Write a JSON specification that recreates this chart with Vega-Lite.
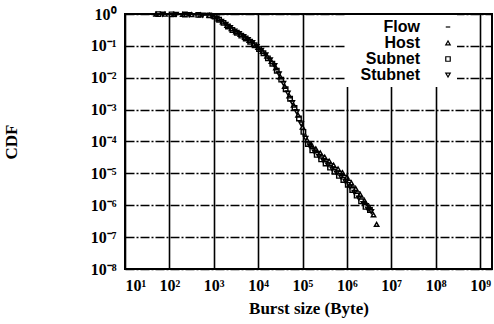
{
 "$schema": "https://vega.github.io/schema/vega-lite/v6.json",
 "width": 367,
 "height": 255,
 "autosize": "none",
 "padding": {"left": 125, "top": 14, "right": 2, "bottom": 55},
 "background": "white",
 "config": {"view": {"stroke": "black", "strokeWidth": 2}, "font": "Liberation Serif"},
 "data": {"values": [
  {"s":"Flow","x":44.7,"y":1},{"s":"Flow","x":63.1,"y":0.9886},{"s":"Flow","x":100,"y":0.9817},{"s":"Flow","x":158,"y":0.9727},{"s":"Flow","x":251,"y":0.9594},{"s":"Flow","x":398,"y":0.944},{"s":"Flow","x":631,"y":0.9226},{"s":"Flow","x":891,"y":0.891},{"s":"Flow","x":1122,"y":0.794},{"s":"Flow","x":1413,"y":0.631},{"s":"Flow","x":1778,"y":0.501},{"s":"Flow","x":2239,"y":0.398},{"s":"Flow","x":2818,"y":0.302},{"s":"Flow","x":3548,"y":0.251},{"s":"Flow","x":4467,"y":0.209},{"s":"Flow","x":5623,"y":0.170},{"s":"Flow","x":7079,"y":0.135},{"s":"Flow","x":8913,"y":0.1},{"s":"Flow","x":11220,"y":0.0794},{"s":"Flow","x":14130,"y":0.0575},{"s":"Flow","x":17780,"y":0.0398},{"s":"Flow","x":22390,"y":0.0269},{"s":"Flow","x":28180,"y":0.0151},{"s":"Flow","x":35480,"y":0.00759},{"s":"Flow","x":44670,"y":0.0038},{"s":"Flow","x":56230,"y":0.0019},{"s":"Flow","x":70790,"y":0.001},{"s":"Flow","x":89130,"y":0.000447},{"s":"Flow","x":112200,"y":0.000158},{"s":"Flow","x":141300,"y":0.0000891},{"s":"Flow","x":177800,"y":0.0000631},{"s":"Flow","x":223900,"y":0.0000479},{"s":"Flow","x":281800,"y":0.0000355},{"s":"Flow","x":354800,"y":0.0000269},{"s":"Flow","x":446700,"y":0.00002},{"s":"Flow","x":562300,"y":0.0000151},{"s":"Flow","x":707900,"y":0.0000115},{"s":"Flow","x":891300,"y":0.00000851},{"s":"Flow","x":1122000,"y":0.00000603},{"s":"Flow","x":1413000,"y":0.00000398},{"s":"Flow","x":1778000,"y":0.00000263},{"s":"Flow","x":2239000,"y":0.0000017},{"s":"Flow","x":2818000,"y":0.00000112},
  {"s":"Host","x":50.1,"y":0.995},{"s":"Host","x":79.4,"y":0.986},{"s":"Host","x":126,"y":0.977},{"s":"Host","x":200,"y":0.966},{"s":"Host","x":316,"y":0.951},{"s":"Host","x":501,"y":0.933},{"s":"Host","x":794,"y":0.902},{"s":"Host","x":1000,"y":0.851},{"s":"Host","x":1259,"y":0.708},{"s":"Host","x":1585,"y":0.562},{"s":"Host","x":1995,"y":0.437},{"s":"Host","x":2512,"y":0.347},{"s":"Host","x":3162,"y":0.275},{"s":"Host","x":3981,"y":0.229},{"s":"Host","x":5012,"y":0.186},{"s":"Host","x":6310,"y":0.148},{"s":"Host","x":7943,"y":0.115},{"s":"Host","x":10000,"y":0.0891},{"s":"Host","x":12590,"y":0.0676},{"s":"Host","x":15850,"y":0.0479},{"s":"Host","x":19950,"y":0.0324},{"s":"Host","x":25120,"y":0.0204},{"s":"Host","x":31620,"y":0.0107},{"s":"Host","x":39810,"y":0.00537},{"s":"Host","x":50120,"y":0.00269},{"s":"Host","x":63100,"y":0.00138},{"s":"Host","x":79430,"y":0.000676},{"s":"Host","x":100000,"y":0.000282},{"s":"Host","x":125900,"y":0.000112},{"s":"Host","x":158500,"y":0.0000794},{"s":"Host","x":199500,"y":0.0000589},{"s":"Host","x":251200,"y":0.0000437},{"s":"Host","x":316200,"y":0.0000324},{"s":"Host","x":398100,"y":0.0000245},{"s":"Host","x":501200,"y":0.0000182},{"s":"Host","x":631000,"y":0.0000138},{"s":"Host","x":794300,"y":0.0000105},{"s":"Host","x":1000000,"y":0.00000759},{"s":"Host","x":1259000,"y":0.00000501},{"s":"Host","x":1585000,"y":0.00000331},{"s":"Host","x":1995000,"y":0.00000219},{"s":"Host","x":2512000,"y":0.00000138},{"s":"Host","x":3162000,"y":0.000000891},{"s":"Host","x":3981000,"y":0.000000501},{"s":"Host","x":4677000,"y":0.000000251},
  {"s":"Subnet","x":56.2,"y":0.991},{"s":"Subnet","x":112,"y":0.977},{"s":"Subnet","x":224,"y":0.962},{"s":"Subnet","x":447,"y":0.938},{"s":"Subnet","x":794,"y":0.902},{"s":"Subnet","x":1047,"y":0.832},{"s":"Subnet","x":1318,"y":0.661},{"s":"Subnet","x":1660,"y":0.525},{"s":"Subnet","x":2089,"y":0.407},{"s":"Subnet","x":2630,"y":0.316},{"s":"Subnet","x":3311,"y":0.257},{"s":"Subnet","x":4169,"y":0.209},{"s":"Subnet","x":5248,"y":0.170},{"s":"Subnet","x":6607,"y":0.135},{"s":"Subnet","x":8318,"y":0.105},{"s":"Subnet","x":10470,"y":0.0794},{"s":"Subnet","x":13180,"y":0.0589},{"s":"Subnet","x":16600,"y":0.0407},{"s":"Subnet","x":20890,"y":0.0275},{"s":"Subnet","x":26300,"y":0.0166},{"s":"Subnet","x":33110,"y":0.0087},{"s":"Subnet","x":41690,"y":0.00437},{"s":"Subnet","x":52480,"y":0.00219},{"s":"Subnet","x":66070,"y":0.00112},{"s":"Subnet","x":83180,"y":0.000525},{"s":"Subnet","x":104700,"y":0.0002},{"s":"Subnet","x":131800,"y":0.0000832},{"s":"Subnet","x":166000,"y":0.0000525},{"s":"Subnet","x":208900,"y":0.000038},{"s":"Subnet","x":263000,"y":0.0000275},{"s":"Subnet","x":331100,"y":0.0000204},{"s":"Subnet","x":416900,"y":0.0000151},{"s":"Subnet","x":524800,"y":0.0000112},{"s":"Subnet","x":660700,"y":0.00000832},{"s":"Subnet","x":831800,"y":0.00000617},{"s":"Subnet","x":1047000,"y":0.00000437},{"s":"Subnet","x":1318000,"y":0.00000302},{"s":"Subnet","x":1660000,"y":0.000002},{"s":"Subnet","x":2089000,"y":0.00000132},{"s":"Subnet","x":2630000,"y":0.000000891},{"s":"Subnet","x":3311000,"y":0.000000708},
  {"s":"Stubnet","x":70.8,"y":0.989},{"s":"Stubnet","x":141,"y":0.973},{"s":"Stubnet","x":282,"y":0.955},{"s":"Stubnet","x":562,"y":0.927},{"s":"Stubnet","x":933,"y":0.871},{"s":"Stubnet","x":1175,"y":0.741},{"s":"Stubnet","x":1479,"y":0.589},{"s":"Stubnet","x":1862,"y":0.468},{"s":"Stubnet","x":2344,"y":0.372},{"s":"Stubnet","x":2951,"y":0.288},{"s":"Stubnet","x":3715,"y":0.240},{"s":"Stubnet","x":4677,"y":0.195},{"s":"Stubnet","x":5888,"y":0.158},{"s":"Stubnet","x":7413,"y":0.126},{"s":"Stubnet","x":9333,"y":0.0955},{"s":"Stubnet","x":11750,"y":0.0724},{"s":"Stubnet","x":14790,"y":0.0525},{"s":"Stubnet","x":18620,"y":0.0363},{"s":"Stubnet","x":23440,"y":0.024},{"s":"Stubnet","x":29510,"y":0.0132},{"s":"Stubnet","x":37150,"y":0.00661},{"s":"Stubnet","x":46770,"y":0.00331},{"s":"Stubnet","x":58880,"y":0.00166},{"s":"Stubnet","x":74130,"y":0.000851},{"s":"Stubnet","x":93330,"y":0.000355},{"s":"Stubnet","x":117500,"y":0.000126},{"s":"Stubnet","x":147900,"y":0.0000708},{"s":"Stubnet","x":186200,"y":0.0000468},{"s":"Stubnet","x":234400,"y":0.0000339},{"s":"Stubnet","x":295100,"y":0.0000251},{"s":"Stubnet","x":371500,"y":0.0000186},{"s":"Stubnet","x":467700,"y":0.0000138},{"s":"Stubnet","x":588800,"y":0.0000102},{"s":"Stubnet","x":741300,"y":0.00000759},{"s":"Stubnet","x":933300,"y":0.0000055},{"s":"Stubnet","x":1175000,"y":0.0000038},{"s":"Stubnet","x":1479000,"y":0.00000251},{"s":"Stubnet","x":1862000,"y":0.00000166},{"s":"Stubnet","x":2344000,"y":0.00000112},{"s":"Stubnet","x":2951000,"y":0.000000759},{"s":"Stubnet","x":3548000,"y":0.000000631}
 ]},
 "mark": {"type": "point", "filled": false, "size": 20, "strokeWidth": 1.4, "opacity": 1, "color": "black"},
 "encoding": {
  "x": {"field": "x", "type": "quantitative",
   "scale": {"type": "log", "domain": [10, 1862000000], "nice": false},
   "axis": {"title": "Burst size (Byte)", "values": [10, 100, 1000, 10000, 100000, 1000000, 10000000, 100000000, 1000000000],
    "labelExpr": "['10⁰','10¹','10²','10³','10⁴','10⁵','10⁶','10⁷','10⁸','10⁹'][round(log(datum.value)/LN10)]",
    "grid": true, "gridColor": "black", "gridWidth": 1.6, "gridOpacity": 1, "ticks": false, "domain": false,
    "labelFont": "Liberation Serif", "labelFontSize": 16, "labelFontWeight": "bold", "labelColor": "black", "labelPadding": 8,
    "titleFont": "Liberation Serif", "titleFontSize": 17, "titleFontWeight": "bold", "titleColor": "black", "titlePadding": 7}},
  "y": {"field": "y", "type": "quantitative",
   "scale": {"type": "log", "domain": [0.00000001, 1], "nice": false},
   "axis": {"title": "CDF", "values": [0.00000001, 0.0000001, 0.000001, 0.00001, 0.0001, 0.001, 0.01, 0.1, 1],
    "labelExpr": "['10⁰','10⁻¹','10⁻²','10⁻³','10⁻⁴','10⁻⁵','10⁻⁶','10⁻⁷','10⁻⁸'][round(-log(datum.value)/LN10)]",
    "grid": true, "gridColor": "black", "gridWidth": 1.6, "gridOpacity": 1, "gridDash": [9, 2, 2, 2], "ticks": false, "domain": false,
    "labelFont": "Liberation Serif", "labelFontSize": 16, "labelFontWeight": "bold", "labelColor": "black", "labelPadding": 9,
    "titleFont": "Liberation Serif", "titleFontSize": 17, "titleFontWeight": "bold", "titleColor": "black", "titlePadding": 70}},
  "shape": {"field": "s", "type": "nominal",
   "scale": {"domain": ["Flow", "Host", "Subnet", "Stubnet"], "range": ["stroke", "triangle-up", "square", "triangle-down"]},
   "legend": {"title": null, "orient": "none", "legendX": 221, "legendY": 1, "fillColor": "white", "padding": 4,
    "labelFont": "Liberation Sans", "labelFontSize": 16, "labelFontWeight": "bold", "labelColor": "black",
    "labelAlign": "right", "labelOffset": -36, "symbolOffset": 90, "symbolSize": 20, "symbolStrokeColor": "black", "symbolStrokeWidth": 1.2, "rowPadding": 0}}
 }
}
